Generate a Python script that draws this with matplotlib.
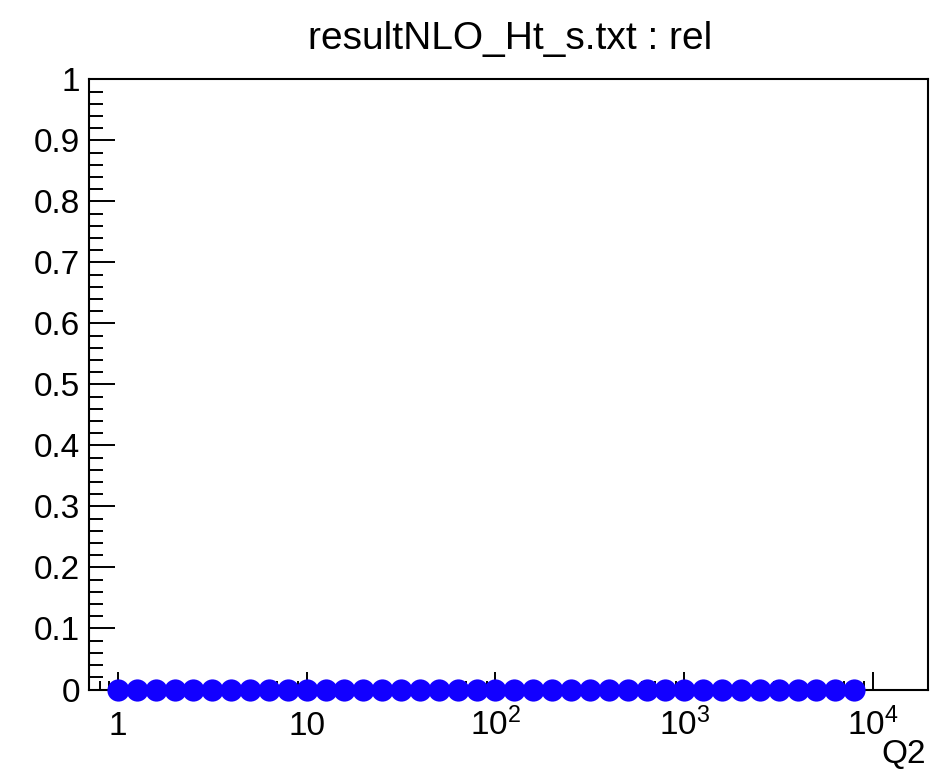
import numpy as np
import matplotlib
matplotlib.use("Agg")
import matplotlib.pyplot as plt
from matplotlib.ticker import FixedLocator, NullFormatter

plt.rcParams["font.family"] = ["Liberation Sans", "DejaVu Sans"]

TITLE = "resultNLO_Ht_s.txt : rel"
X_LABEL = "Q2"

# graph points (10 per decade, all at zero)
q2 = [1.0, 1.259, 1.585, 1.995, 2.512, 3.162, 3.981, 5.012, 6.310, 7.943,
      10.0, 12.59, 15.85, 19.95, 25.12, 31.62, 39.81, 50.12, 63.10, 79.43,
      100.0, 125.9, 158.5, 199.5, 251.2, 316.2, 398.1, 501.2, 631.0, 794.3,
      1000.0, 1259.0, 1585.0, 1995.0, 2512.0, 3162.0, 3981.0, 5012.0, 6310.0, 7943.0]
rel = [0.0, 0.0, 0.0, 0.0, 0.0, 0.0, 0.0, 0.0, 0.0, 0.0,
       0.0, 0.0, 0.0, 0.0, 0.0, 0.0, 0.0, 0.0, 0.0, 0.0,
       0.0, 0.0, 0.0, 0.0, 0.0, 0.0, 0.0, 0.0, 0.0, 0.0,
       0.0, 0.0, 0.0, 0.0, 0.0, 0.0, 0.0, 0.0, 0.0, 0.0]

x_ticks = [1, 10, 100, 1000, 10000]
x_tick_labels = ["1", "10", r"$\mathregular{10^{2}}$", r"$\mathregular{10^{3}}$",
                 r"$\mathregular{10^{4}}$"]
y_ticks = [0.0, 0.1, 0.2, 0.3, 0.4, 0.5, 0.6, 0.7, 0.8, 0.9, 1.0]
y_tick_labels = ["0", "0.1", "0.2", "0.3", "0.4", "0.5", "0.6", "0.7", "0.8", "0.9", "1"]

W, H = 932, 774
fig = plt.figure(figsize=(W / 100, H / 100), dpi=100)
ax = fig.add_axes([89.3 / W, 1 - 689.5 / H, (928 - 89.3) / W, (689.5 - 79.3) / H])

ax.plot(q2, rel, "o", color="#1200ff", markersize=16, markeredgewidth=0,
        clip_on=False, zorder=3)

ax.set_xscale("log")
ax.set_xlim(0.705, 19550)
ax.set_ylim(0, 1)

ax.xaxis.set_major_locator(FixedLocator(x_ticks))
ax.set_xticklabels(x_tick_labels)
minor_x = [m * 10.0 ** d for d in range(-1, 5) for m in range(2, 10)]
ax.xaxis.set_minor_locator(FixedLocator(minor_x))
ax.xaxis.set_minor_formatter(NullFormatter())

ax.set_yticks(y_ticks)
ax.set_yticklabels(y_tick_labels)
ax.yaxis.set_minor_locator(FixedLocator(np.arange(0, 1.0001, 0.02)))

ax.tick_params(axis="x", which="major", direction="in", length=13, width=1.4,
               labelsize=24, pad=33, top=False)
ax.tick_params(axis="x", which="minor", direction="in", length=6.5, width=1.4, top=False)
ax.tick_params(axis="y", which="major", direction="in", length=18.5, width=1.4,
               labelsize=24, pad=6.5, right=False)
ax.tick_params(axis="y", which="minor", direction="in", length=10, width=1.4, right=False)
for lab in ax.get_xticklabels():
    lab.set_verticalalignment("baseline")

for s in ax.spines.values():
    s.set_linewidth(1.5)

fig.text(510 / W, 1 - 49 / H, TITLE, ha="center", va="baseline", fontsize=28)
fig.text(926 / W, 1 - 763 / H, X_LABEL, ha="right", va="baseline", fontsize=24)

fig.savefig("out.png", dpi=100)
